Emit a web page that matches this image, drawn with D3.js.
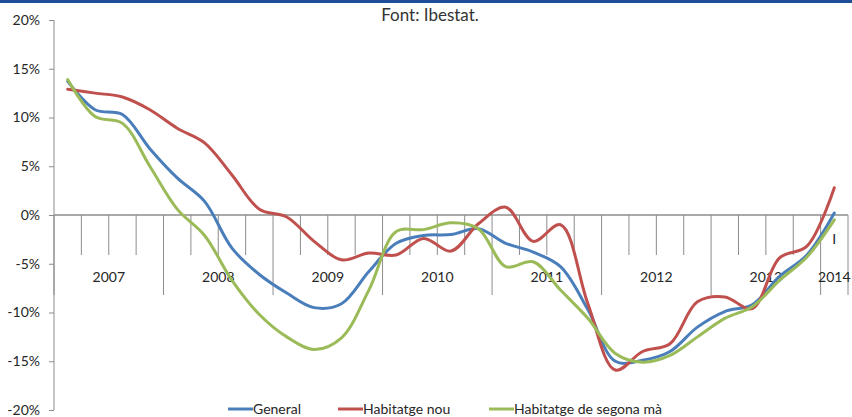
<!DOCTYPE html>
<html>
<head>
<meta charset="utf-8">
<script src="https://cdn.jsdelivr.net/npm/d3@7"></script>
<style>
  body { margin: 0; background: #fff; }
  svg { display: block; font-family: Lato, "Open Sans", sans-serif; }
</style>
</head>
<body>
<div id="chart"></div>
<script>
// quarterly data, 2007 Q1 .. 2014 Q1
var years = ["2007", "2008", "2009", "2010", "2011", "2012", "2013", "2014"];
var quarterLabels = ["", "", "", "", "", "", "", "", "", "", "", "", "", "", "",
                     "", "", "", "", "", "", "", "", "", "", "", "", "", "I"];
var yTicks = [-20, -15, -10, -5, 0, 5, 10, 15, 20];

var general = [13.7, 10.8, 10.3, 6.8, 3.8, 1.4, -3.4, -6.1, -8.0, -9.5, -9.1, -5.8, -2.9, -2.1, -2.0,
               -1.4, -2.9, -3.8, -5.3, -9.7, -15.0, -14.9, -14.0, -11.5, -9.9, -9.2, -6.3, -4.1, 0.2];
var nou = [12.9, 12.5, 12.1, 10.8, 8.9, 7.4, 4.1, 0.6, -0.2, -2.7, -4.6, -3.9, -4.1, -2.4, -3.7,
           -0.9, 0.8, -2.7, -1.0, -9.1, -15.9, -14.0, -13.2, -8.9, -8.4, -9.6, -4.4, -3.2, 2.8];
var segonaMa = [13.9, 10.1, 9.4, 5.0, 0.6, -2.1, -6.7, -10.2, -12.5, -13.8, -12.6, -7.7, -1.7, -1.5, -0.8,
                -1.4, -5.3, -4.8, -7.7, -10.6, -14.2, -15.1, -14.4, -12.5, -10.6, -9.4, -6.7, -4.3, -0.5];

var seriesNames = ["General", "Habitatge nou", "Habitatge de segona mà"];
var seriesColors = ["#4a7ebb", "#c0504d", "#9bbb59"];

var width = 852, height = 417;
var axisColor = "#8c8c8c", textColor = "#262626";

var svg = d3.select("#chart").append("svg")
    .attr("width", width)
    .attr("height", height);

// top rule
svg.append("rect")
    .attr("x", 0).attr("y", 0)
    .attr("width", width).attr("height", 3)
    .attr("fill", "#1f4e99");

svg.append("text")
    .attr("x", 430).attr("y", 21)
    .attr("text-anchor", "middle")
    .style("font-size", "17px")
    .attr("fill", "#333")
    .text("Font: Ibestat.");

var x = d3.scaleBand()
    .domain(d3.range(general.length))
    .range([54, 848]);

var y = d3.scaleLinear()
    .domain([-20, 20])
    .range([410, 20]);

// y axis
var yAxis = svg.append("g")
    .attr("transform", "translate(54,0)")
    .call(d3.axisLeft(y).tickValues(yTicks).tickSize(5).tickPadding(9)
        .tickFormat(function(d) { return d + "%"; }));
yAxis.select(".domain").attr("stroke", axisColor).attr("d", "M0," + y(20) + "V" + y(-20));
yAxis.selectAll(".tick line").attr("stroke", axisColor);
yAxis.selectAll(".tick text")
    .attr("fill", textColor)
    .style("font-size", "14px")
    .style("font-family", "Lato, sans-serif");

// category axis on the zero line
var y0 = y(0);
var xAxis = svg.append("g").attr("class", "x-axis");
xAxis.append("line")
    .attr("x1", x.range()[0]).attr("x2", x.range()[1])
    .attr("y1", y0).attr("y2", y0)
    .attr("stroke", axisColor).attr("stroke-width", 1.3);

var boundaries = d3.range(general.length + 1);
xAxis.selectAll(".qtick")
    .data(boundaries)
    .enter().append("line")
    .attr("class", "qtick")
    .attr("x1", function(d) { return d < general.length ? x(d) : x.range()[1]; })
    .attr("x2", function(d) { return d < general.length ? x(d) : x.range()[1]; })
    .attr("y1", y0)
    .attr("y2", function(d) { return (d % 4 === 0 || d === general.length) ? y0 + 80 : y0 + 40; })
    .attr("stroke", axisColor);

xAxis.selectAll(".qlabel")
    .data(quarterLabels)
    .enter().append("text")
    .attr("class", "qlabel")
    .attr("x", function(d, i) { return x(i) + x.bandwidth() / 2; })
    .attr("y", y0 + 29)
    .attr("text-anchor", "middle")
    .attr("fill", textColor)
    .style("font-size", "14px")
    .text(function(d) { return d; });

xAxis.selectAll(".ylabel")
    .data(years)
    .enter().append("text")
    .attr("class", "ylabel")
    .attr("x", function(d, i) {
        var start = x(i * 4);
        var end = Math.min(x.range()[1], start + 4 * x.step());
        return (start + end) / 2;
    })
    .attr("y", y0 + 67)
    .attr("text-anchor", "middle")
    .attr("fill", textColor)
    .style("font-size", "14px")
    .text(function(d) { return d; });

// lines
var allSeries = [general, nou, segonaMa];
var line = d3.line()
    .x(function(d, i) { return x(i) + x.bandwidth() / 2; })
    .y(function(d) { return y(d); })
    .curve(d3.curveCatmullRom.alpha(0.5));

svg.selectAll(".series")
    .data(allSeries)
    .enter().append("path")
    .attr("class", "series")
    .attr("d", line)
    .attr("fill", "none")
    .attr("stroke", function(d, i) { return seriesColors[i]; })
    .attr("stroke-width", 3)
    .attr("stroke-linejoin", "round")
    .attr("stroke-linecap", "round");

// legend
var legendX = [228, 338, 489];
var legend = svg.selectAll(".legend")
    .data(seriesNames)
    .enter().append("g")
    .attr("class", "legend")
    .attr("transform", function(d, i) { return "translate(" + legendX[i] + ",409)"; });

legend.append("line")
    .attr("x1", 0).attr("x2", 25)
    .attr("y1", 0).attr("y2", 0)
    .attr("stroke", function(d, i) { return seriesColors[i]; })
    .attr("stroke-width", 3);

legend.append("text")
    .attr("x", 25).attr("y", 5)
    .attr("fill", textColor)
    .style("font-size", "14px")
    .text(function(d) { return d; });
</script>
</body>
</html>
